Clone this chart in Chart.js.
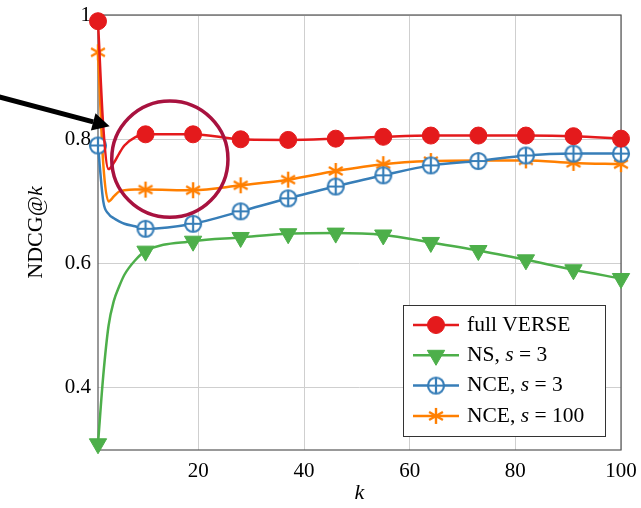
<!DOCTYPE html>
<html>
<head>
<meta charset="utf-8">
<title>NDCG@k</title>
<script src="https://cdn.jsdelivr.net/npm/chart.js@4.4.0/dist/chart.umd.min.js"></script>
<style>
  body { margin: 0; background: #fff; }
</style>
</head>
<body>
<canvas id="myChart" width="641" height="508"></canvas>
<script>
// k values (markers only every 9th k, the rest just shape the line)
const K = [1, 2, 3, 4, 5, 6, 8, 10, 19, 28, 37, 46, 55, 64, 73, 82, 91, 100];
const MARK_K = [1, 10, 19, 28, 37, 46, 55, 64, 73, 82, 91, 100];

const fullVerse = [0.99, 0.82, 0.752, 0.762, 0.777, 0.79, 0.803, 0.808, 0.808, 0.800, 0.799, 0.801, 0.804, 0.806, 0.806, 0.806, 0.805, 0.801];
const ns3       = [0.31, 0.42, 0.50, 0.54, 0.563, 0.582, 0.605, 0.620, 0.636, 0.642, 0.648, 0.649, 0.646, 0.634, 0.621, 0.606, 0.590, 0.576];
const nce3      = [0.79, 0.70, 0.68, 0.673, 0.668, 0.664, 0.660, 0.656, 0.664, 0.684, 0.705, 0.724, 0.742, 0.758, 0.765, 0.774, 0.777, 0.777];
const nce100    = [0.94, 0.76, 0.70, 0.708, 0.716, 0.718, 0.719, 0.719, 0.718, 0.726, 0.735, 0.749, 0.760, 0.765, 0.766, 0.766, 0.762, 0.760];

const X_TICKS = [20, 40, 60, 80, 100];
const Y_TICKS = [0.4, 0.6, 0.8, 1];

// legend labels, second item = italic
const LABELS = [
  [['full VERSE']],
  [['NS, '], ['s', true], [' = 3']],
  [['NCE, '], ['s', true], [' = 3']],
  [['NCE, '], ['s', true], [' = 100']]
];

// annotation, in data units: circle (k, ndcg, radius in k) and arrow (from -> to)
const CIRCLE = [14.6, 0.768, 11];
const ARROW = [[-18, 0.869], [3.2, 0.821]];

const SERIF = "'Liberation Serif', 'DejaVu Serif', serif";
const RED = '#E41A1C', GREEN = '#4DAF4A', BLUE = '#377EB8', ORANGE = '#FF7F00';

function plusCircle(color, r) {
  const c = document.createElement('canvas');
  const s = 2 * r + 4;
  c.width = c.height = s;
  const g = c.getContext('2d');
  const m = s / 2;
  g.lineWidth = 2.2;
  g.strokeStyle = color;
  g.fillStyle = '#fff';
  g.beginPath(); g.arc(m, m, r, 0, 2 * Math.PI); g.fill(); g.stroke();
  g.beginPath();
  g.moveTo(m - r, m); g.lineTo(m + r, m);
  g.moveTo(m, m - r); g.lineTo(m, m + r);
  g.stroke();
  return c;
}

function asterisk(color, r) {
  const c = document.createElement('canvas');
  const s = 2 * r + 4;
  c.width = c.height = s;
  const g = c.getContext('2d');
  const m = s / 2;
  g.lineWidth = 2.4;
  g.strokeStyle = color;
  g.lineCap = 'butt';
  g.beginPath();
  [90, 30, 150].forEach(a => {
    const t = a * Math.PI / 180;
    g.moveTo(m - r * Math.cos(t), m - r * Math.sin(t));
    g.lineTo(m + r * Math.cos(t), m + r * Math.sin(t));
  });
  g.stroke();
  return c;
}

function markR(r) {
  return ctx => MARK_K.includes(K[ctx.dataIndex]) ? r : 0;
}

function series(label, values, color, style, r, rot) {
  return {
    label: label,
    data: values.map((v, i) => ({ x: K[i], y: v })),
    borderColor: color,
    backgroundColor: color,
    borderWidth: 2.5,
    pointStyle: style,
    pointRotation: rot || 0,
    pointRadius: markR(r),
    pointBorderWidth: 1,
    cubicInterpolationMode: 'monotone',
    clip: false
  };
}

function drawParts(ctx, parts, x, y, size) {
  parts.forEach(p => {
    ctx.font = (p[1] ? 'italic ' : '') + size + 'px ' + SERIF;
    ctx.fillText(p[0], x, y);
    x += ctx.measureText(p[0]).width;
  });
  return x;
}

function partsWidth(ctx, parts, size) {
  let w = 0;
  parts.forEach(p => {
    ctx.font = (p[1] ? 'italic ' : '') + size + 'px ' + SERIF;
    w += ctx.measureText(p[0]).width;
  });
  return w;
}

const extras = {
  id: 'extras',
  beforeDatasetsDraw(chart) {
    const { ctx, chartArea: a } = chart;
    ctx.save();
    ctx.strokeStyle = '#555';
    ctx.lineWidth = 1.2;
    ctx.strokeRect(a.left, a.top, a.right - a.left, a.bottom - a.top);
    ctx.restore();
  },
  afterDraw(chart) {
    const { ctx, chartArea: a, scales: { x, y } } = chart;
    ctx.save();

    // circle
    const cx = x.getPixelForValue(CIRCLE[0]);
    const cy = y.getPixelForValue(CIRCLE[1]);
    const r = x.getPixelForValue(CIRCLE[0] + CIRCLE[2]) - cx;
    ctx.strokeStyle = '#A8123F';
    ctx.lineWidth = 3.5;
    ctx.beginPath(); ctx.arc(cx, cy, r, 0, 2 * Math.PI); ctx.stroke();

    // arrow
    const x1 = x.getPixelForValue(ARROW[0][0]), y1 = y.getPixelForValue(ARROW[0][1]);
    const x2 = x.getPixelForValue(ARROW[1][0]), y2 = y.getPixelForValue(ARROW[1][1]);
    const ang = Math.atan2(y2 - y1, x2 - x1);
    const hl = 17, hw = 9;
    const bx = x2 - hl * Math.cos(ang), by = y2 - hl * Math.sin(ang);
    ctx.strokeStyle = '#000';
    ctx.fillStyle = '#000';
    ctx.lineWidth = 5;
    ctx.beginPath(); ctx.moveTo(x1, y1); ctx.lineTo(bx, by); ctx.stroke();
    ctx.beginPath();
    ctx.moveTo(x2, y2);
    ctx.lineTo(bx + hw * Math.sin(ang), by - hw * Math.cos(ang));
    ctx.lineTo(bx - hw * Math.sin(ang), by + hw * Math.cos(ang));
    ctx.closePath(); ctx.fill();

    // axis titles
    ctx.fillStyle = '#000';
    ctx.textBaseline = 'middle';
    const yt = [['NDCG@'], ['k', true]];
    ctx.save();
    ctx.translate(36, (a.top + a.bottom) / 2);
    ctx.rotate(-Math.PI / 2);
    drawParts(ctx, yt, -partsWidth(ctx, yt, 22) / 2, 0, 22);
    ctx.restore();
    ctx.textAlign = 'center';
    ctx.font = 'italic 22px ' + SERIF;
    ctx.fillText('k', (a.left + a.right) / 2, 493);
    ctx.textAlign = 'left';

    // legend
    const w = 202, h = 131;
    const x0 = a.right - 16 - w, y0 = a.bottom - 14 - h;
    ctx.fillStyle = '#fff';
    ctx.fillRect(x0, y0, w, h);
    ctx.strokeStyle = '#333';
    ctx.lineWidth = 1;
    ctx.strokeRect(x0 + 0.5, y0 + 0.5, w, h);
    chart.data.datasets.forEach((ds, i) => {
      const ly = y0 + 20 + i * 30.3;
      ctx.strokeStyle = ds.borderColor;
      ctx.lineWidth = ds.borderWidth;
      ctx.beginPath(); ctx.moveTo(x0 + 10, ly); ctx.lineTo(x0 + 56, ly); ctx.stroke();
      ctx.fillStyle = ds.backgroundColor;
      ctx.lineWidth = 1;
      Chart.helpers.drawPoint(ctx, {
        pointStyle: ds.pointStyle, rotation: ds.pointRotation,
        radius: chart.getDatasetMeta(i).data[0].options.radius, borderWidth: 1
      }, x0 + 33, ly);
      ctx.fillStyle = '#000';
      ctx.textBaseline = 'middle';
      drawParts(ctx, LABELS[i], x0 + 64, ly, 21.5);
    });
    ctx.restore();
  }
};

new Chart(document.getElementById('myChart'), {
  type: 'line',
  data: {
    datasets: [
      series('full VERSE', fullVerse, RED, 'circle', 8.5),
      series('NS, s = 3', ns3, GREEN, 'triangle', 10, 180),
      series('NCE, s = 3', nce3, BLUE, plusCircle(BLUE, 8), 8),
      series('NCE, s = 100', nce100, ORANGE, asterisk(ORANGE, 8), 8)
    ]
  },
  options: {
    responsive: false,
    animation: false,
    events: [],
    layout: { padding: { top: 15, right: 20, left: 0, bottom: 0 } },
    plugins: { legend: { display: false }, tooltip: { enabled: false } },
    scales: {
      x: {
        type: 'linear',
        min: 1,
        max: 100,
        afterBuildTicks: s => { s.ticks = X_TICKS.map(v => ({ value: v })); },
        afterFit: s => { s.height = 58; s.paddingLeft = 0; s.paddingRight = 0; },
        grid: { color: '#cfcfcf', lineWidth: 1, drawTicks: false },
        border: { display: false },
        ticks: { color: '#000', padding: 9, maxRotation: 0, font: { family: SERIF, size: 21 } }
      },
      y: {
        min: 0.3,
        max: 1.0,
        afterBuildTicks: s => { s.ticks = Y_TICKS.map(v => ({ value: v })); },
        afterFit: s => { s.width = 98; s.paddingTop = 0; s.paddingBottom = 0; },
        grid: { color: '#cfcfcf', lineWidth: 1, drawTicks: false },
        border: { display: false },
        ticks: {
          color: '#000', padding: 7, font: { family: SERIF, size: 21 },
          callback: v => v === 1 ? '1' : v.toFixed(1)
        }
      }
    }
  },
  plugins: [extras]
});
</script>
</body>
</html>
